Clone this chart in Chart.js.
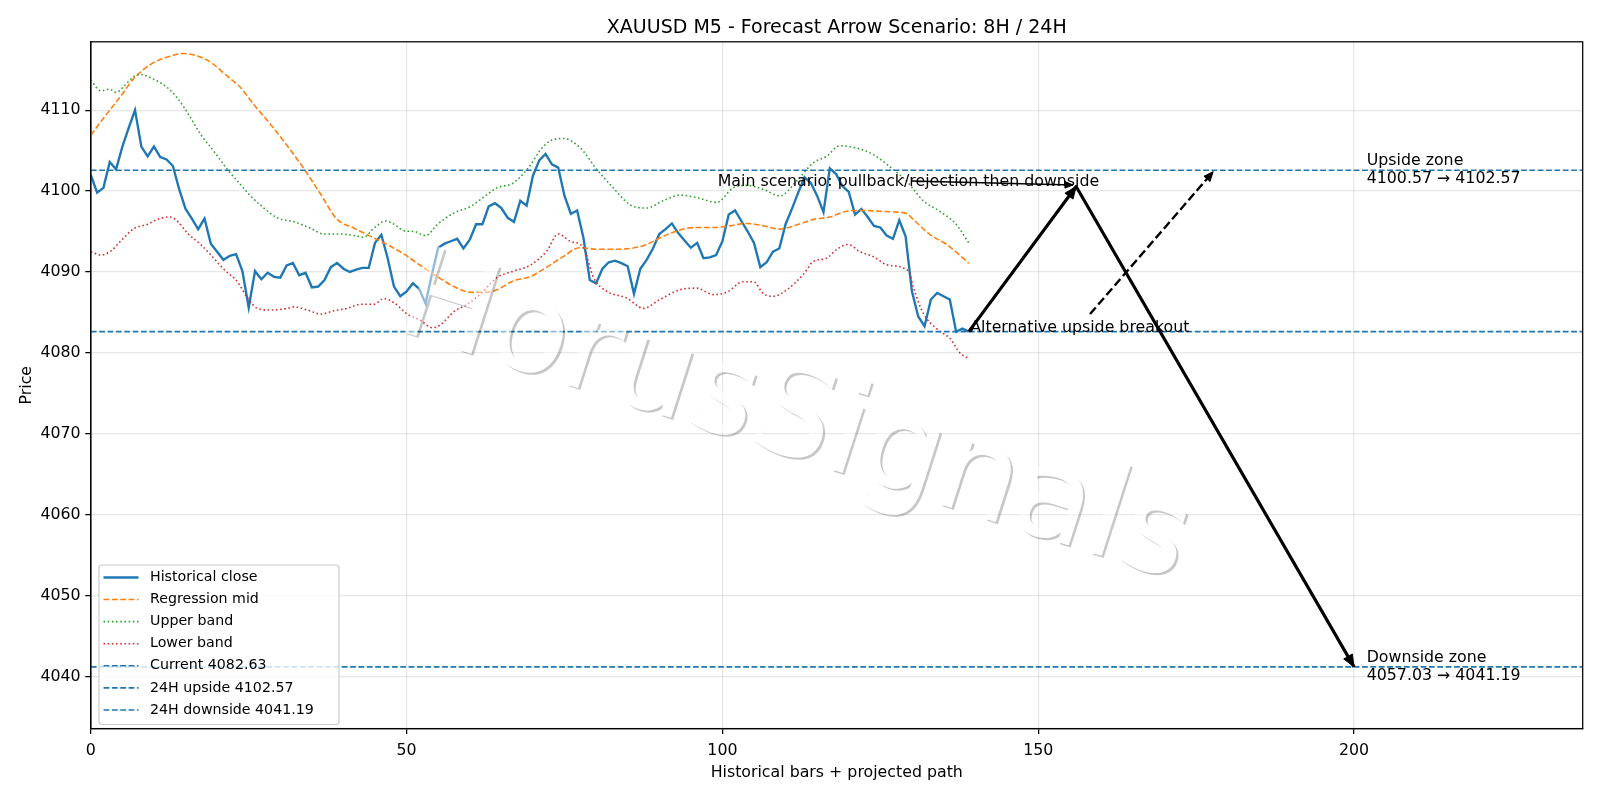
<!DOCTYPE html>
<html>
<head>
<meta charset="utf-8">
<title>XAUUSD M5 - Forecast Arrow Scenario</title>
<script src="https://cdn.jsdelivr.net/npm/chart.js@4.4.1/dist/chart.umd.min.js"></script>
<style>
  html, body { margin: 0; padding: 0; background: #fff; }
  canvas { display: block; }
</style>
</head>
<body>
<canvas id="forecastChart" width="1600" height="800"></canvas>
<script>
// =================== DATA ===================
const closeValues = [
  4102.0, 4099.8, 4100.4, 4103.6, 4102.7, 4105.5, 4107.8, 4110.0, 4105.5, 4104.3,
  4105.5, 4104.2, 4103.9, 4103.1, 4100.2, 4097.8, 4096.6, 4095.3, 4096.6, 4093.5,
  4092.5, 4091.5, 4092.0, 4092.2, 4090.1, 4085.6, 4090.1, 4089.1, 4089.9, 4089.4,
  4089.3, 4090.8, 4091.1, 4089.6, 4089.9, 4088.1, 4088.2, 4089.0, 4090.6, 4091.1,
  4090.4, 4090.0, 4090.3, 4090.5, 4090.5, 4093.6, 4094.6, 4091.7, 4088.2, 4087.0,
  4087.6, 4088.6, 4087.9, 4086.1, 4089.7, 4093.0, 4093.5, 4093.8, 4094.1, 4092.9,
  4094.0, 4095.9, 4095.9, 4098.1, 4098.5, 4097.9, 4096.7, 4096.2, 4098.8, 4098.2,
  4101.9, 4103.8, 4104.6, 4103.3, 4102.9, 4099.4, 4097.2, 4097.6, 4094.2, 4089.0,
  4088.6, 4090.4, 4091.2, 4091.4, 4091.1, 4090.7, 4087.3, 4090.4, 4091.5, 4092.9,
  4094.7, 4095.3, 4096.0, 4094.8, 4093.9, 4093.0, 4093.6, 4091.7, 4091.8, 4092.1,
  4093.8, 4097.1, 4097.6, 4096.3, 4095.0, 4093.6, 4090.6, 4091.2, 4092.5, 4092.9,
  4095.9, 4097.8, 4099.8, 4101.7, 4101.0, 4099.4, 4097.4, 4102.8, 4102.1, 4100.6,
  4099.9, 4097.1, 4097.8, 4096.8, 4095.7, 4095.5, 4094.5, 4094.1, 4096.4, 4094.4,
  4087.6, 4084.5, 4083.3, 4086.6, 4087.4, 4087.0, 4086.6, 4082.6, 4083.0, 4082.63
];

// regression mid
const midX = [0, 2, 4.7, 6.9, 10, 12.7, 14.5, 16.9, 19, 21.6, 23.7, 25.8, 28.5, 31.1, 33.8, 36.4, 39,
  41.7, 44.3, 46.9, 49.6, 52.2, 54.9, 57.5, 60.1, 62.8, 64.3, 66.9, 69.5, 72.2, 74.8, 77.4, 80.1,
  82.7, 85.4, 88, 90.6, 93.3, 95.9, 98.6, 101.2, 103.8, 106.5, 109.1, 111.7, 114.4, 117, 119.7,
  122.3, 125, 127.6, 129.2, 130.2, 132.9, 135.5, 139];
const midY = [4106.9, 4109.0, 4111.7, 4114.0, 4115.9, 4116.7, 4117.0, 4116.7, 4115.9, 4114.2, 4112.8,
  4110.7, 4108.2, 4105.6, 4102.7, 4099.6, 4096.5, 4095.4, 4094.4, 4093.4, 4092.2, 4090.8, 4089.4,
  4088.2, 4087.5, 4087.5, 4087.8, 4088.9, 4089.4, 4090.6, 4091.9, 4093.0, 4092.8, 4092.8, 4092.9,
  4093.4, 4094.4, 4095.2, 4095.5, 4095.5, 4095.7, 4096.0, 4095.7, 4095.3, 4095.8, 4096.5, 4096.8,
  4097.5, 4097.6, 4097.5, 4097.4, 4097.2, 4096.5, 4094.6, 4093.4, 4091.1];

const upperX = [0, 1.6, 2.9, 4, 5.3, 6.9, 7.9, 10, 12.1, 13.7, 15.3, 17.4, 19.5, 21.6, 23.7, 25.3, 27.4,
  29.5, 32.2, 34.8, 36.9, 39.6, 41.7, 43.2, 44.8, 46.7, 48, 49.6, 51.2, 53, 54.9, 57.5, 60.1, 62.8,
  64.3, 66.9, 69.5, 71.1, 72.7, 74.8, 77.4, 80.1, 82.7, 85.4, 88, 90.6, 93.3, 95.9, 99.1, 101.7,
  103.8, 106.5, 109.1, 111.7, 114.4, 116.5, 118.6, 121.3, 123.9, 126.5, 129.2, 131.8, 134.4, 137, 139];
const upperY = [4113.7, 4112.4, 4112.6, 4112.2, 4113.0, 4114.2, 4114.4, 4113.8, 4112.8, 4111.5, 4109.7,
  4107.0, 4104.9, 4102.7, 4100.8, 4099.4, 4097.9, 4096.7, 4096.2, 4095.4, 4094.7, 4094.7, 4094.5,
  4094.3, 4095.4, 4096.3, 4095.9, 4095.1, 4095.0, 4094.5, 4095.9, 4097.3, 4098.1, 4099.6, 4100.4,
  4101.0, 4103.1, 4105.0, 4106.2, 4106.5, 4105.4, 4102.7, 4100.4, 4098.3, 4097.9, 4098.8, 4099.5,
  4099.2, 4098.6, 4100.4, 4100.7, 4100.2, 4099.4, 4101.2, 4103.5, 4104.3, 4105.6, 4105.3, 4104.5,
  4103.0, 4101.2, 4098.8, 4097.5, 4095.9, 4093.6];

const lowerX = [0, 1.6, 3.2, 4.7, 6.9, 9, 10.5, 12.4, 13.4, 15.3, 17.4, 19, 21.1, 23.2, 24.8, 26.4, 28.5,
  31.1, 32.2, 34.3, 36.4, 38.5, 40.6, 42.7, 44.8, 46.4, 48, 50.1, 52.2, 54.1, 55.4, 57.5, 59.6, 61.6,
  64.3, 66.9, 69.5, 72.2, 74, 75.9, 78, 79.6, 81.7, 84.8, 87.5, 90.1, 93.3, 95.9, 98.6, 100.7, 103.3,
  104.9, 106.5, 108.1, 110.2, 112.8, 114.4, 116.5, 118.1, 119.9, 121.8, 123.9, 126, 128.7, 129.7,
  130.2, 131.8, 134.2, 136, 137.6, 139];
const lowerY = [4092.5, 4092.1, 4092.6, 4093.8, 4095.4, 4095.9, 4096.5, 4096.8, 4096.5, 4094.8, 4093.4,
  4092.1, 4090.3, 4088.8, 4086.8, 4085.5, 4085.3, 4085.5, 4085.7, 4085.3, 4084.8, 4085.2, 4085.5,
  4086.0, 4086.0, 4086.7, 4086.2, 4084.8, 4084.0, 4083.1, 4083.5, 4085.1, 4086.0, 4087.2, 4089.3,
  4090.1, 4090.8, 4092.6, 4094.7, 4093.8, 4093.0, 4089.3, 4087.6, 4086.8, 4085.5, 4086.6, 4087.8,
  4088.0, 4087.2, 4087.5, 4088.8, 4088.8, 4087.3, 4087.0, 4087.8, 4089.7, 4091.3, 4091.7, 4092.8,
  4093.4, 4092.5, 4091.9, 4090.9, 4090.5, 4089.7, 4088.2, 4084.9, 4082.8, 4081.8, 4080.0, 4079.3];

// horizontal levels
const levelNames = ['Current', '24H upside', '24H downside'];
const levelValues = [4082.63, 4102.57, 4041.19];

// projected paths
const mainPathX = [139, 156, 200];
const mainPathY = [4082.63, 4100.57, 4041.19];
const altPathX = [158.2, 177.7];
const altPathY = [4084.8, 4102.4];
const pointerX = [129.9, 155.5];
const pointerY = [4101.25, 4100.75];

const upsideZone = [4100.57, 4102.57];
const downsideZone = [4057.03, 4041.19];

const xTicks = [0, 50, 100, 150, 200];
const yTicks = [4040, 4050, 4060, 4070, 4080, 4090, 4100, 4110];
const xRange = [0, 236.2];
const yRange = [4033.56, 4118.45];

const FONT = "'DejaVu Sans', 'Liberation Sans', sans-serif";
const BLUE = '#1f77b4';
const PT = 1.578; // px per point in the reference

const pts = (xs, ys) => xs.map((x, i) => ({ x: x, y: ys[i] }));

// =================== DATASETS ===================
const datasets = [
  { label: 'Historical close', data: closeValues.map((v, i) => ({ x: i, y: v })),
    borderColor: BLUE, borderWidth: 1.5 * PT, order: 9, legend: true },
  { label: 'Regression mid', data: pts(midX, midY), borderColor: '#ff7f0e', borderWidth: PT,
    borderDash: [3.7 * PT, 1.6 * PT], cubicInterpolationMode: 'monotone', order: 8, legend: true },
  { label: 'Upper band', data: pts(upperX, upperY), borderColor: '#2ca02c', borderWidth: PT,
    borderDash: [PT, 1.65 * PT], cubicInterpolationMode: 'monotone', order: 7, legend: true },
  { label: 'Lower band', data: pts(lowerX, lowerY), borderColor: '#d62728', borderWidth: PT,
    borderDash: [PT, 1.65 * PT], cubicInterpolationMode: 'monotone', order: 6, legend: true }
];

levelValues.forEach((v, i) => {
  datasets.push({
    label: levelNames[i] + ' ' + v.toFixed(2),
    data: [{ x: xRange[0], y: v }, { x: xRange[1], y: v }],
    borderColor: BLUE, borderWidth: PT, borderDash: [3.7 * PT, 1.6 * PT], order: 5 - i, legend: true
  });
});

datasets.push(
  { label: 'main path', data: pts(mainPathX, mainPathY), borderColor: '#000', borderWidth: 2 * PT,
    borderJoinStyle: 'round', order: 1, heads: [1, 2], headLen: 12, headHalf: 5 },
  { label: 'alt path', data: pts(altPathX, altPathY), borderColor: '#000', borderWidth: 1.5 * PT,
    borderDash: [5.55 * PT, 2.4 * PT], order: 1, heads: [1], headLen: 9.5, headHalf: 4 },
  { label: 'pointer', data: pts(pointerX, pointerY), borderColor: '#000', borderWidth: PT,
    order: 0, heads: [1], headLen: 8, headHalf: 3.3 }
);

// =================== PLUGINS ===================
function arrowHead(ctx, x0, y0, x1, y1, len, half) {
  const a = Math.atan2(y1 - y0, x1 - x0);
  const c = Math.cos(a), s = Math.sin(a);
  ctx.beginPath();
  ctx.moveTo(x1, y1);
  ctx.lineTo(x1 - len * c + half * s, y1 - len * s - half * c);
  ctx.lineTo(x1 - len * c - half * s, y1 - len * s + half * c);
  ctx.closePath();
  ctx.fill();
  ctx.stroke();
}

const decorPlugin = {
  id: 'decor',
  afterDatasetsDraw(chart) {
    const { ctx, chartArea: a, scales } = chart;
    ctx.save();
    // arrow heads
    chart.data.datasets.forEach(ds => {
      if (!ds.heads) return;
      ds.heads.forEach(k => {
        const p0 = ds.data[k - 1], p1 = ds.data[k];
        ctx.fillStyle = '#000';
        ctx.strokeStyle = '#000';
        ctx.lineWidth = 1;
        ctx.setLineDash([]);
        ctx.lineJoin = 'miter';
        arrowHead(ctx, scales.x.getPixelForValue(p0.x), scales.y.getPixelForValue(p0.y),
          scales.x.getPixelForValue(p1.x), scales.y.getPixelForValue(p1.y), ds.headLen, ds.headHalf);
      });
    });
    // spines
    ctx.strokeStyle = '#000';
    ctx.lineWidth = 0.8 * PT;
    ctx.strokeRect(a.left, a.top, a.right - a.left, a.bottom - a.top);
    ctx.restore();
  },
  afterDraw(chart) {
    const { ctx, chartArea: a, scales } = chart;
    const X = v => scales.x.getPixelForValue(v);
    const Y = v => scales.y.getPixelForValue(v);
    ctx.save();

    // annotation texts
    ctx.fillStyle = '#000';
    ctx.font = '15.8px ' + FONT;
    ctx.textBaseline = 'alphabetic';
    ctx.textAlign = 'center';
    ctx.fillText('Main scenario: pullback/rejection then downside', X(129.45), Y(mainPathY[1]));
    ctx.textAlign = 'left';
    ctx.fillText('Alternative upside breakout', X(mainPathX[0]) + 1.5, Y(levelValues[0]));
    const zones = [['Upside zone', upsideZone], ['Downside zone', downsideZone]];
    zones.forEach(([name, z]) => {
      const y = Y(z[1]);
      ctx.fillText(name, X(202), y - 5);
      ctx.fillText(z[0].toFixed(2) + ' \u2192 ' + z[1].toFixed(2), X(202), y + 12.8);
    });

    // legend
    const items = chart.data.datasets.filter(d => d.legend);
    const bx = 99, by = 565, bw = 240, bh = 159.5, r = 3;
    ctx.beginPath();
    ctx.moveTo(bx + r, by);
    ctx.arcTo(bx + bw, by, bx + bw, by + bh, r);
    ctx.arcTo(bx + bw, by + bh, bx, by + bh, r);
    ctx.arcTo(bx, by + bh, bx, by, r);
    ctx.arcTo(bx, by, bx + bw, by, r);
    ctx.closePath();
    ctx.fillStyle = 'rgba(255,255,255,0.8)';
    ctx.fill();
    ctx.strokeStyle = '#cccccc';
    ctx.lineWidth = 1.2;
    ctx.stroke();
    ctx.font = '14.2px ' + FONT;
    items.forEach((d, i) => {
      const y = 577.5 + i * 22.07;
      ctx.beginPath();
      ctx.setLineDash(d.borderDash || []);
      ctx.strokeStyle = d.borderColor;
      ctx.lineWidth = d.borderWidth;
      ctx.moveTo(103.5, y);
      ctx.lineTo(138.5, y);
      ctx.stroke();
      ctx.setLineDash([]);
      ctx.fillStyle = '#000';
      ctx.textBaseline = 'middle';
      ctx.textAlign = 'left';
      ctx.fillText(d.label, 150, y);
    });

    // title
    ctx.font = '19px ' + FONT;
    ctx.textAlign = 'center';
    ctx.textBaseline = 'alphabetic';
    ctx.fillText('XAUUSD M5 - Forecast Arrow Scenario: 8H / 24H', (a.left + a.right) / 2, 32.5);

    ctx.restore();
    drawWatermark(ctx);
  }
};

function drawWatermark(ctx) {
  const text = 'HorusSignals';
  const cx = 784, cy = 454, ang = 17.8 * Math.PI / 180;
  const put = (c, dx, dy) => {
    c.save();
    c.translate(cx + dx, cy + dy);
    c.rotate(ang);
    c.font = '126px ' + FONT;
    c.textAlign = 'center';
    c.textBaseline = 'alphabetic';
    c.fillText(text, 0, 0);
    c.restore();
  };
  const off = document.createElement('canvas');
  off.width = 1600;
  off.height = 800;
  const o = off.getContext('2d');
  o.fillStyle = 'rgba(0,0,0,0.22)';
  put(o, 2.2, 2.2);
  o.globalCompositeOperation = 'destination-out';
  o.fillStyle = '#000';
  put(o, 0, 0);
  ctx.drawImage(off, 0, 0);
  ctx.save();
  ctx.fillStyle = 'rgba(255,255,255,0.5)';
  put(ctx, 0, 0);
  ctx.restore();
}

// =================== CHART ===================
const keepTicks = list => scale => {
  scale.ticks = list.map(v => ({ value: v }));
};

const tickFont = { family: FONT, size: 15.8 };
const gridCfg = {
  color: 'rgba(176,176,176,0.3)', lineWidth: 0.8 * PT,
  drawTicks: true, tickLength: 3.5 * PT, tickColor: '#000', tickWidth: 0.8 * PT
};

new Chart(document.getElementById('forecastChart'), {
  type: 'line',
  data: { datasets: datasets },
  options: {
    responsive: false,
    animation: false,
    devicePixelRatio: 1,
    layout: { padding: { top: 41.8, right: 17.3, bottom: 0, left: 0 } },
    elements: { point: { radius: 0, hoverRadius: 0 }, line: { tension: 0, fill: false } },
    plugins: { legend: { display: false }, title: { display: false }, tooltip: { enabled: false } },
    events: [],
    scales: {
      x: {
        type: 'linear', min: xRange[0], max: xRange[1],
        afterBuildTicks: keepTicks(xTicks),
        afterFit: s => { s.height = 71.4; },
        grid: gridCfg,
        border: { display: true, color: '#000', width: 0.8 * PT },
        ticks: { color: '#000', font: tickFont, padding: 6.8, maxRotation: 0, autoSkip: false,
          callback: v => String(v) },
        title: { display: true, text: 'Historical bars + projected path', color: '#000',
          font: tickFont, padding: { top: 0, bottom: 17.6 } }
      },
      y: {
        type: 'linear', min: yRange[0], max: yRange[1],
        afterBuildTicks: keepTicks(yTicks),
        afterFit: s => { s.width = 90.8; },
        grid: gridCfg,
        border: { display: true, color: '#000', width: 0.8 * PT },
        ticks: { color: '#000', font: tickFont, padding: 4.7, autoSkip: false,
          callback: v => String(v) },
        title: { display: true, text: 'Price', color: '#000', font: tickFont,
          padding: { top: 17.1, bottom: 0 } }
      }
    }
  },
  plugins: [decorPlugin]
});
</script>
</body>
</html>
